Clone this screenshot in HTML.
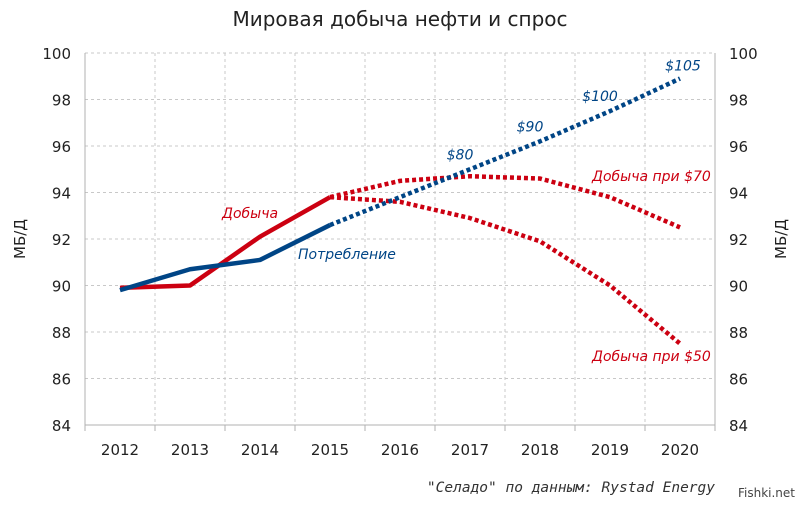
<!DOCTYPE html>
<html><head><meta charset="utf-8"><style>
body{margin:0;background:#fff;width:800px;height:505px;overflow:hidden;font-family:"DejaVu Sans","Liberation Sans",sans-serif}
</style></head><body>
<svg id="chart" width="800" height="505" xmlns="http://www.w3.org/2000/svg" font-family="DejaVu Sans, Liberation Sans, sans-serif"></svg>
<script>
const years=["2012","2013","2014","2015","2016","2017","2018","2019","2020"];
const consSolid=[89.8,90.7,91.1,92.6,null,null,null,null,null];
const consDot=[null,null,null,92.6,93.8,95.0,96.2,97.5,98.9];
const prodSolid=[89.9,90.0,92.1,93.8,null,null,null,null,null];
const prod70=[null,null,null,93.8,94.5,94.7,94.6,93.8,92.5];
const prod50=[null,null,null,93.8,93.6,92.9,91.9,90.0,87.5];
const yTicks=[84,86,88,90,92,94,96,98,100];
const priceLabels=["$80","$90","$100","$105"];
const priceYears=["2017","2018","2019","2020"];
const priceVals=[95.0,96.2,97.5,98.9];

const svg=document.getElementById('chart');
const NS='http://www.w3.org/2000/svg';
const L=85,R=715,T=53,B=425;
const band=(R-L)/years.length;
const x=i=>L+band*(i+0.5);
const y=v=>B-(v-84)/(100-84)*(B-T);
function el(tag,attrs,text){const e=document.createElementNS(NS,tag);for(const k in attrs)e.setAttribute(k,attrs[k]);if(text!==undefined)e.textContent=text;svg.appendChild(e);return e;}

let t=el('text',{x:400,y:26,'text-anchor':'middle','font-size':20,fill:'#222'},'Мировая добыча нефти и спрос');



yTicks.forEach(v=>{
 const g=el('line',{x1:L,x2:R,y1:y(v),y2:y(v),stroke:'#c8c8c8','stroke-dasharray':'3,3'});
 
 
 const a=el('text',{x:L-14,y:y(v)+6,'text-anchor':'end','font-size':15,fill:'#222'},v);
 
 
 const b=el('text',{x:R+14,y:y(v)+6,'text-anchor':'start','font-size':15,fill:'#222'},v);
 
 
});
for(let i=1;i<years.length;i++){
 const g=el('line',{x1:L+band*i,x2:L+band*i,y1:T,y2:B,stroke:'#c8c8c8','stroke-dasharray':'3,3'});
 
 
}
[L,R].forEach(xx=>{const a=el('line',{x1:xx,x2:xx,y1:T,y2:B+6,stroke:'#b0b0b0'});
 
 });
let bx=el('line',{x1:L,x2:R,y1:B,y2:B,stroke:'#b0b0b0'});


years.forEach((yr,i)=>{
 const a=el('text',{x:x(i),y:455,'text-anchor':'middle','font-size':15,fill:'#222'},yr);
 
 
 const tk=el('line',{x1:L+band*i,x2:L+band*i,y1:B,y2:B+6,stroke:'#b0b0b0'});
 
 
});
let yl=el('text',{x:0,y:0,'text-anchor':'middle','font-size':15,fill:'#222',transform:`translate(25,${(T+B)/2}) rotate(-90)`},'МБ/Д');


let yr2=el('text',{x:0,y:0,'text-anchor':'middle','font-size':15,fill:'#222',transform:`translate(786,${(T+B)/2}) rotate(-90)`},'МБ/Д');



function series(arr,color,dotted,name){
 const pts=[];arr.forEach((v,i)=>{if(v!==null)pts.push(x(i)+','+y(v));});
 const p=el('polyline',{points:pts.join(' '),fill:'none',stroke:color,'stroke-width':4.5,'stroke-linejoin':'round'});
 if(dotted)p.setAttribute('stroke-dasharray','4,3');
 
 
}
const RED='#cc0011',BLUE='#004586';
series(prod70,RED,true,'production-70-line');
series(prod50,RED,true,'production-50-line');
series(prodSolid,RED,false,'production-line');
series(consDot,BLUE,true,'consumption-forecast-line');
series(consSolid,BLUE,false,'consumption-line');

function lab(tx,xx,yy,c,anchor,name){const e=el('text',{x:xx,y:yy,'text-anchor':anchor,'font-size':14,'font-style':'italic',fill:c},tx);
 
 }
lab('Добыча',222,218,RED,'start','production-label');
lab('Потребление',298,259,BLUE,'start','consumption-label');
lab('Добыча при $70',592,181,RED,'start','production-70-label');
lab('Добыча при $50',592,361,RED,'start','production-50-label');
priceLabels.forEach((p,i)=>{const idx=years.indexOf(priceYears[i]);
 lab(p,x(idx)-(i==3?-3:10),y(priceVals[i])-(i==3?8:10),BLUE,'middle','price-label');});
lab('"Селадо" по данным: Rystad Energy',715,492,'#333','end','source-note');
svg.lastChild.setAttribute('font-family','DejaVu Sans Mono, Liberation Mono, monospace');
svg.lastChild.setAttribute('font-size','14.5');
let wm=el('text',{x:795,y:497,'text-anchor':'end','font-size':12,fill:'#444'},'Fishki.net');


</script>
</body></html>
